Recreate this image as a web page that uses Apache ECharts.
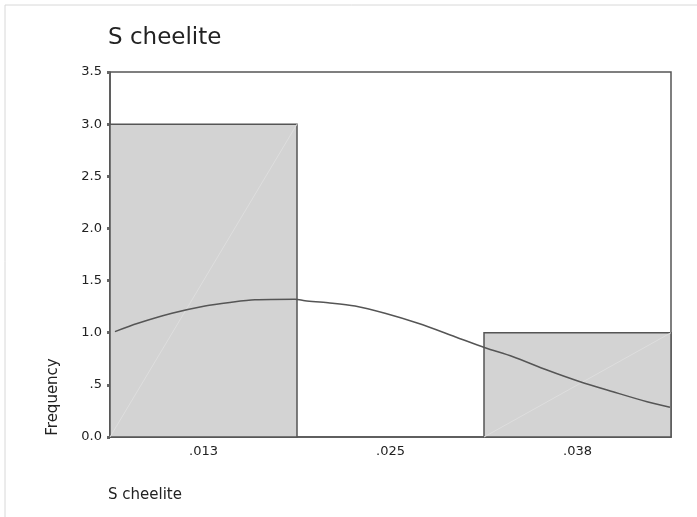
<!DOCTYPE html>
<html>
<head>
<meta charset="utf-8">
<script src="https://cdn.jsdelivr.net/npm/echarts@6/dist/echarts.min.js"></script>
<style>html,body{margin:0;padding:0;background:#fff}#c{width:697px;height:517px}</style>
</head>
<body>
<div id="c"></div>
<script>
// Histogram bins (category labels) and counts
const binLabels = ['.013', '.025', '.038'];
const binCounts = [3, 0, 1];
// Bin range (value scale used by the normal curve)
const binMin = 0.00625;
const binMax = 0.04375;
// Normal curve
const curveX = [0.00658, 0.00812, 0.01039, 0.0126, 0.01427, 0.01594, 0.01862, 0.01928, 0.02082, 0.02263, 0.02463, 0.02684, 0.02931, 0.03132, 0.03319, 0.03546, 0.03767, 0.03987, 0.04215, 0.04368];
const curveY = [1.01, 1.09, 1.186, 1.256, 1.29, 1.315, 1.32, 1.307, 1.288, 1.256, 1.186, 1.09, 0.962, 0.856, 0.77, 0.642, 0.53, 0.434, 0.338, 0.285];
const yTicks = { min: 0, max: 3.5, interval: 0.5 };

const chart = echarts.init(document.getElementById('c'), null, { renderer: 'canvas' });
const font = 'DejaVu Sans';
const option = {
  animation: false,
  backgroundColor: '#fff',
  textStyle: { fontFamily: font },
  grid: { left: 110, top: 72, right: 26, bottom: 80, show: true, borderColor: '#555', borderWidth: 1.5, backgroundColor: 'transparent' },
  graphic: [
    { type: 'rect', shape: { x: 5, y: 5, width: 720, height: 540 }, style: { fill: 'none', stroke: '#d8d8d8', lineWidth: 1 }, silent: true, z: -10 },
    { type: 'text', left: 108, top: 27, style: { text: 'S cheelite', font: '23px "DejaVu Sans"', fill: '#222' } },
    { type: 'text', left: 108, top: 488, style: { text: 'S cheelite', font: '15px "DejaVu Sans"', fill: '#222' } },
    { type: 'text', x: 46, y: 397, rotation: Math.PI / 2, style: { text: 'Frequency', font: '15px "DejaVu Sans"', fill: '#222', align: 'center', verticalAlign: 'top' } }
  ],
  xAxis: [
    {
      type: 'category', data: binLabels, boundaryGap: true,
      axisLine: { lineStyle: { color: '#555', width: 1.5 } },
      axisTick: { alignWithLabel: true, length: 3, lineStyle: { color: '#666', width: 3 } },
      axisLabel: { color: '#222', fontSize: 13, margin: 8, fontFamily: font },
      splitLine: { show: false }
    },
    { type: 'value', min: binMin, max: binMax, show: false }
  ],
  yAxis: {
    type: 'value', min: yTicks.min, max: yTicks.max, interval: yTicks.interval,
    axisLine: { show: true, lineStyle: { color: '#555', width: 1.5 } },
    axisTick: { show: true, length: 3, lineStyle: { color: '#666', width: 3 } },
    axisLabel: { color: '#222', fontSize: 13, margin: 8, fontFamily: font,
      formatter: v => (v > 0 && v < 1) ? '.5' : v.toFixed(1) },
    splitLine: { show: false }
  },
  series: [
    {
      type: 'custom', xAxisIndex: 0, yAxisIndex: 0,
      data: binCounts.map((c, i) => [i, c]),
      encode: { x: 0, y: 1 },
      renderItem: function (params, api) {
        const idx = api.value(0), val = api.value(1);
        if (!val) return null;
        const p0 = api.coord([idx, 0]);
        const p1 = api.coord([idx, val]);
        const w = api.size([1, 0])[0];
        const x = p0[0] - w / 2;
        return {
          type: 'group',
          children: [
            { type: 'rect', shape: { x: x, y: p1[1], width: w, height: p0[1] - p1[1] }, style: { fill: '#d3d3d3', stroke: '#555', lineWidth: 1.5 } },
            { type: 'line', shape: { x1: x, y1: p0[1], x2: x + w, y2: p1[1] }, style: { stroke: '#dedede', lineWidth: 1 } }
          ]
        };
      },
      z: 2
    },
    {
      type: 'line', xAxisIndex: 1, yAxisIndex: 0,
      data: curveX.map((x, i) => [x, curveY[i]]),
      showSymbol: false, smooth: 0.3,
      lineStyle: { color: '#555', width: 1.5 },
      z: 3
    }
  ]
};
chart.setOption(option);
</script>
</body>
</html>
